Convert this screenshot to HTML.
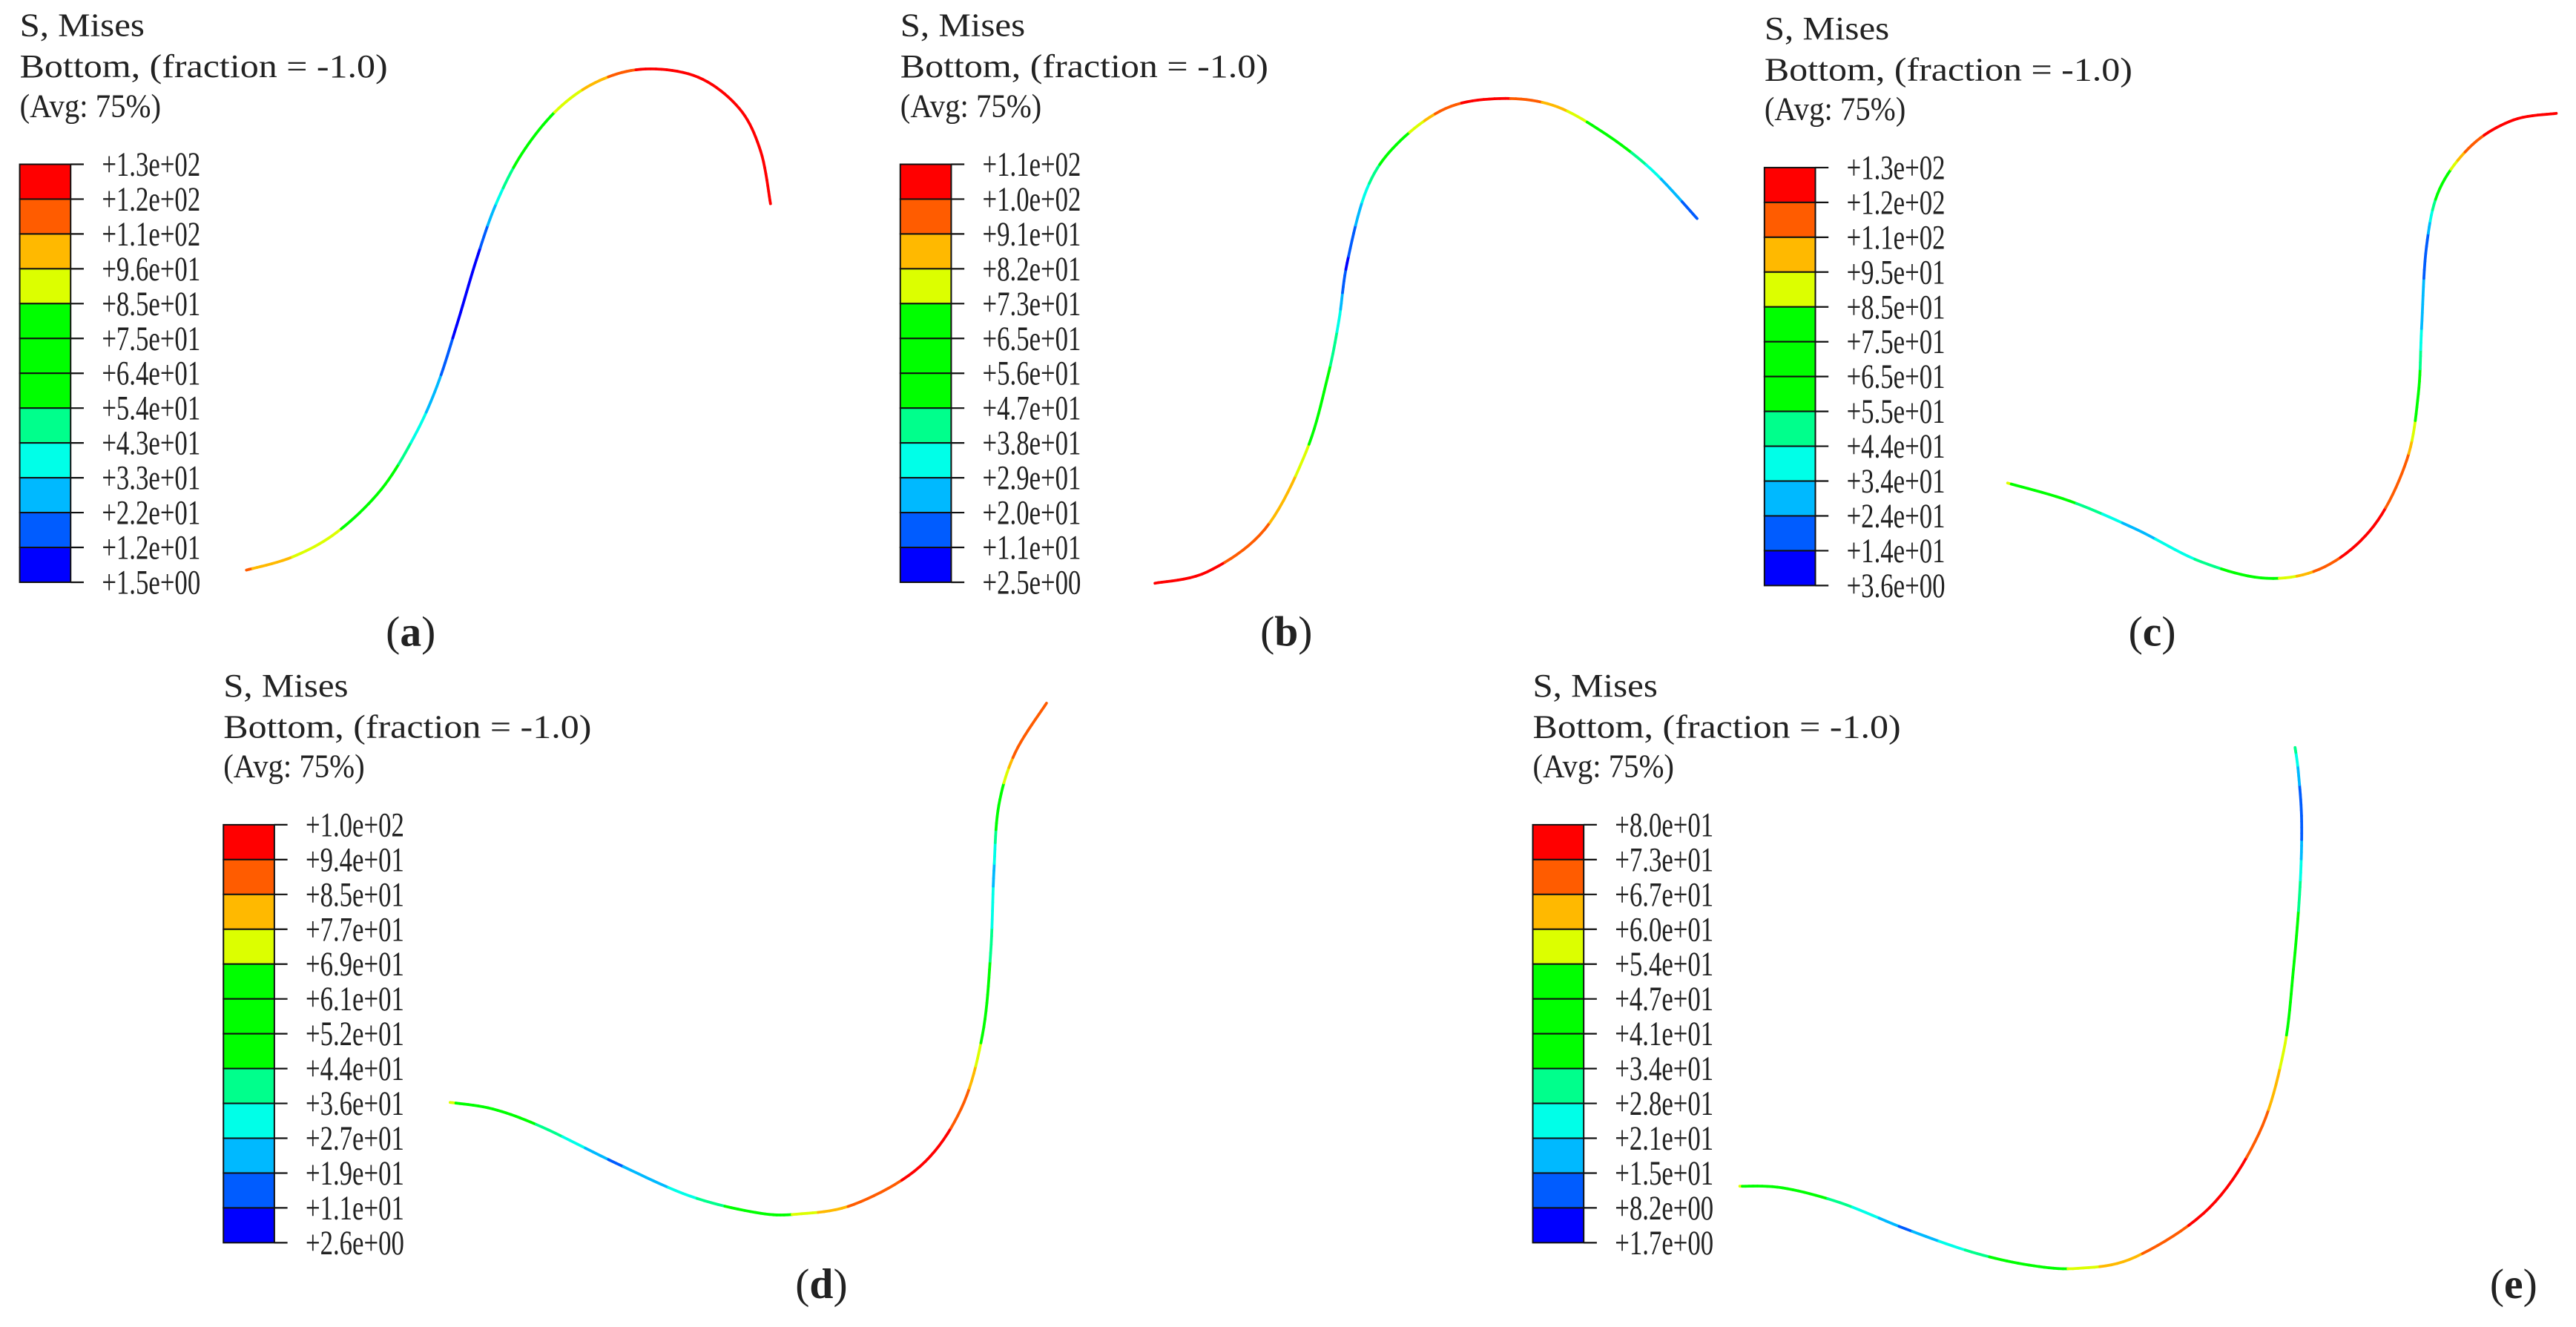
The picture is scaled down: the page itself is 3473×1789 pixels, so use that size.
<!DOCTYPE html>
<html><head><meta charset="utf-8"><style>
html,body{margin:0;padding:0;background:#fff;}
svg{display:block;}
text{font-family:"Liberation Serif",serif;fill:#222;}
</style></head><body>
<svg id="fig" width="3473" height="1789" viewBox="0 0 1568 807.7" preserveAspectRatio="none" xmlns="http://www.w3.org/2000/svg"></svg>
<script>
// Legend band colours, bottom (min) to top (max)
const bandColors = ["#0000ff","#005cff","#00b9ff","#00ffe8","#00ff8c","#00ff00","#00ff00","#00ff00","#dcff00","#ffb900","#ff5c00","#ff0000"];

// Tick labels per panel (top to bottom)
const ticksA = ["+1.3e+02","+1.2e+02","+1.1e+02","+9.6e+01","+8.5e+01","+7.5e+01","+6.4e+01","+5.4e+01","+4.3e+01","+3.3e+01","+2.2e+01","+1.2e+01","+1.5e+00"];
const ticksB = ["+1.1e+02","+1.0e+02","+9.1e+01","+8.2e+01","+7.3e+01","+6.5e+01","+5.6e+01","+4.7e+01","+3.8e+01","+2.9e+01","+2.0e+01","+1.1e+01","+2.5e+00"];
const ticksC = ["+1.3e+02","+1.2e+02","+1.1e+02","+9.5e+01","+8.5e+01","+7.5e+01","+6.5e+01","+5.5e+01","+4.4e+01","+3.4e+01","+2.4e+01","+1.4e+01","+3.6e+00"];
const ticksD = ["+1.0e+02","+9.4e+01","+8.5e+01","+7.7e+01","+6.9e+01","+6.1e+01","+5.2e+01","+4.4e+01","+3.6e+01","+2.7e+01","+1.9e+01","+1.1e+01","+2.6e+00"];
const ticksE = ["+8.0e+01","+7.3e+01","+6.7e+01","+6.0e+01","+5.4e+01","+4.7e+01","+4.1e+01","+3.4e+01","+2.8e+01","+2.1e+01","+1.5e+01","+8.2e+00","+1.7e+00"];

// Deformed shape nodes (x, y) and stress fraction of range (0..1) at each node
const shapeAx = [150,178,205,232,252,266,278,290,302,318,340,365,393,425,450,463,469];
const shapeAy = [347,339,324,298,266,235,198,158,124,93,66,49,42,47,66,92,124];
const stressA = [0.85,0.75,0.68,0.55,0.3,0.2,0.05,0.05,0.25,0.5,0.68,0.8,0.95,0.95,0.95,0.95,0.92];

const shapeBx = [703,735,770,795,808,815,820,832,850,880,913,945,975,1005,1033];
const shapeBy = [355,348,322,275,230,195,160,115,88,66,60,64,80,103,133];
const stressB = [0.95,0.95,0.85,0.7,0.45,0.3,0.05,0.3,0.55,0.9,0.95,0.8,0.6,0.3,0.08];

const shapeCx = [1222,1260,1300,1340,1380,1415,1445,1465,1472,1474,1477,1485,1505,1530,1556];
const shapeCy = [294,305,322,342,352,345,320,280,240,200,150,115,88,73,69];
const stressC = [0.7,0.45,0.2,0.35,0.6,0.9,0.95,0.85,0.55,0.25,0.1,0.5,0.9,0.95,0.95];

const shapeDx = [274,300,330,375,420,460,485,520,560,585,598,603,605,608,618,637];
const shapeDy = [671,675,686,708,728,738,739,733,710,675,630,580,530,490,458,428];
const stressD = [0.7,0.55,0.4,0.15,0.3,0.55,0.68,0.85,0.95,0.9,0.65,0.4,0.2,0.55,0.85,0.9];

const shapeEx = [1059,1085,1120,1160,1200,1235,1265,1300,1345,1375,1390,1396,1400,1401,1399,1397];
const shapeEy = [722,723,732,748,762,770,772,765,735,690,640,590,540,500,470,455];
const stressE = [0.68,0.55,0.38,0.15,0.35,0.55,0.7,0.82,0.95,0.9,0.7,0.55,0.35,0.1,0.2,0.4];

const NS = "http://www.w3.org/2000/svg";
const svg = document.getElementById("fig");
function mk(tag, attrs, parent){const e=document.createElementNS(NS,tag);for(const k in attrs)e.setAttribute(k,attrs[k]);(parent||svg).appendChild(e);return e;}
function colorOf(f){let i=Math.floor(f*12);if(i>11)i=11;if(i<0)i=0;return bandColors[i];}

function panel(id, ox, oy, ticks, xs, ys, ss, lx, ly, letter){
  const g = mk("g",{});
  
  
  const t1=mk("text",{x:ox,y:oy+22,"font-size":20,textLength:76,lengthAdjust:"spacingAndGlyphs"},g); t1.textContent="S, Mises";
  
  
  const t2=mk("text",{x:ox,y:oy+47,"font-size":20,textLength:224,lengthAdjust:"spacingAndGlyphs"},g); t2.textContent="Bottom, (fraction = -1.0)";
  
  
  const t3=mk("text",{x:ox,y:oy+71,"font-size":20,textLength:86,lengthAdjust:"spacingAndGlyphs"},g); t3.textContent="(Avg: 75%)";
  
  
  const top=oy+100, bh=21.2, bw=31;
  const leg = mk("g",{},g);
  
  
  for(let i=0;i<12;i++){
    const r=mk("rect",{x:ox,y:top+i*bh,width:bw,height:bh,fill:bandColors[11-i],stroke:"#111","stroke-width":0.9},leg);
    
    
  }
  for(let i=0;i<ticks.length;i++){
    const y=top+i*bh;
    const l=mk("line",{x1:ox+bw,x2:ox+bw+8,y1:y,y2:y,stroke:"#111","stroke-width":1},leg);
    
    
    const tx=mk("text",{x:ox+bw+19,y:y+7,"font-size":21,textLength:60,lengthAdjust:"spacingAndGlyphs"},leg);
    tx.textContent=ticks[i];
    
    
  }
  const cg = mk("g",{},g);
  
  
  const n=xs.length;
  for(let i=0;i<n-1;i++){
    const p0=[xs[Math.max(i-1,0)],ys[Math.max(i-1,0)]],p1=[xs[i],ys[i]],p2=[xs[i+1],ys[i+1]],p3=[xs[Math.min(i+2,n-1)],ys[Math.min(i+2,n-1)]];
    const steps=10;let prev=p1;
    for(let s=1;s<=steps;s++){
      const t=s/steps,t2=t*t,t3=t2*t;
      const f=(a,b,c,d)=>0.5*(2*b+(-a+c)*t+(2*a-5*b+4*c-d)*t2+(-a+3*b-3*c+d)*t3);
      const pt=[f(p0[0],p1[0],p2[0],p3[0]),f(p0[1],p1[1],p2[1],p3[1])];
      const sv=ss[i]+(ss[i+1]-ss[i])*(t-0.05);
      const seg=mk("line",{x1:prev[0],y1:prev[1],x2:pt[0],y2:pt[1],stroke:colorOf(sv),"stroke-width":1.7,"stroke-linecap":"round"},cg);
      
      
      prev=pt;
    }
  }
  const cap=mk("text",{x:lx,y:ly,"font-size":26,"text-anchor":"middle"},g);
  
  
  cap.appendChild(document.createTextNode("("));
  const b=mk("tspan",{"font-weight":"bold"},cap); b.textContent=letter;
  cap.appendChild(document.createTextNode(")"));
}
panel("a",12,0,ticksA,shapeAx,shapeAy,stressA,250,393,"a");
panel("b",548,0,ticksB,shapeBx,shapeBy,stressB,783,393,"b");
panel("c",1074,2,ticksC,shapeCx,shapeCy,stressC,1310,393,"c");
panel("d",136,402,ticksD,shapeDx,shapeDy,stressD,500,790,"d");
panel("e",933,402,ticksE,shapeEx,shapeEy,stressE,1530,790,"e");
</script>
</body></html>
